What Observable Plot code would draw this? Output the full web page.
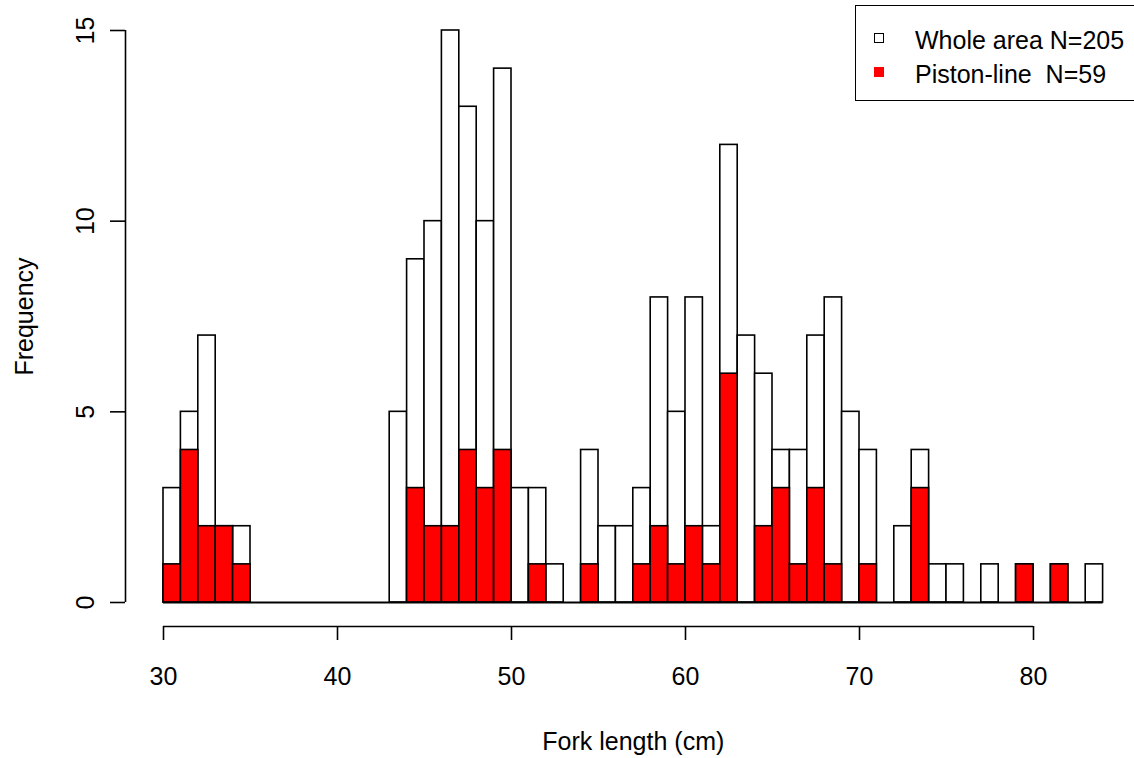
<!DOCTYPE html>
<html>
<head>
<meta charset="utf-8">
<script src="https://cdn.jsdelivr.net/npm/d3@7"></script>
<script src="https://cdn.jsdelivr.net/npm/@observablehq/plot@0.6"></script>
<style>
  html, body { margin: 0; padding: 0; background: #fff; overflow: hidden; }
  #wrap { position: relative; width: 1134px; height: 758px; }
  #legend { position: absolute; left: 855px; top: 5px; width: 300px; height: 94px;
            border: 1.5px solid #000; background: #fff; font-family: "Liberation Sans", Arial, sans-serif; font-size: 25px; }
  .row { position: absolute; left: 0; height: 30px; white-space: pre; color: #000; }
  .sw { position: absolute; left: 18px; width: 10px; height: 10px; box-sizing: border-box; }
  .lbl { position: absolute; left: 59px; line-height: 30px; }
</style>
</head>
<body>
<div id="wrap">
  <div id="chart"></div>
  <div id="legend">
    <div class="row" style="top:19px"><div class="sw" style="top:8px;border:1.5px solid #000;background:#fff"></div><div class="lbl" style="top:0">Whole area N=205</div></div>
    <div class="row" style="top:53px"><div class="sw" style="top:8px;background:#ff0000"></div><div class="lbl" style="top:0">Piston-line  N=59</div></div>
  </div>
</div>
<script>
const binStart = [30,31,32,33,34,35,36,37,38,39,40,41,42,43,44,45,46,47,48,49,50,51,52,53,54,55,56,57,58,59,60,61,62,63,64,65,66,67,68,69,70,71,72,73,74,75,76,77,78,79,80,81,82,83];
const wholeCounts = [3,5,7,2,2,0,0,0,0,0,0,0,0,5,9,10,15,13,10,14,3,3,1,0,4,2,2,3,8,5,8,2,12,7,6,4,4,7,8,5,4,0,2,4,1,1,0,1,0,1,0,1,0,1];
const pistonCounts = [1,4,2,2,1,0,0,0,0,0,0,0,0,0,3,2,2,4,3,4,0,1,0,0,1,0,0,1,2,1,2,1,6,0,2,3,1,3,1,0,1,0,0,3,0,0,0,0,0,1,0,1,0,0];
const binWidth = 1;
const xTicks = [30,40,50,60,70,80];
const yTicks = [0,5,10,15];
const xLabel = "Fork length (cm)";
const yLabel = "Frequency";

const whole = binStart.map((s, i) => ({x1: s, x2: s + binWidth, n: wholeCounts[i]}));
const piston = binStart.map((s, i) => ({x1: s, x2: s + binWidth, n: pistonCounts[i]}));
const xMin = binStart[0], xMax = binStart[binStart.length - 1] + binWidth;

const font = "'Liberation Sans', Arial, sans-serif";
const chart = Plot.plot({
  width: 1134,
  height: 758,
  marginLeft: 163,
  marginRight: 31.4,
  marginTop: 30,
  marginBottom: 156,
  style: {fontFamily: font, fontSize: "25px", background: "#fff", color: "#000"},
  x: {domain: [xMin, xMax], label: null},
  y: {domain: [yTicks[0], yTicks[yTicks.length - 1]], label: null},
  marks: [
    Plot.rect(whole, {x1: "x1", x2: "x2", y1: 0, y2: "n", fill: "#ffffff", stroke: "#000", strokeWidth: 1.6}),
    Plot.rect(piston, {x1: "x1", x2: "x2", y1: 0, y2: "n", fill: "#ff0000", stroke: "#000", strokeWidth: 1.6}),
    Plot.ruleY([0], {x1: xMin, x2: xMax, stroke: "#000", strokeWidth: 2}),
    // y axis
    Plot.ruleX([xMin], {y1: yTicks[0], y2: yTicks[yTicks.length - 1], dx: -38, stroke: "#000", strokeWidth: 1.6}),
    Plot.axisY({ticks: yTicks, tickSize: 15, tickPadding: 17, dx: -38, tickRotate: -90, fontSize: 25, label: null, strokeWidth: 1.6}),
    // x axis
    Plot.ruleY([0], {x1: xTicks[0], x2: xTicks[xTicks.length - 1], dy: 24, stroke: "#000", strokeWidth: 1.6}),
    Plot.axisX({ticks: xTicks, tickSize: 14, tickPadding: 27, dy: 24, fontSize: 25, label: null, strokeWidth: 1.6}),
    // axis titles
    Plot.text([xLabel], {frameAnchor: "bottom", text: d => d, dy: 147, lineAnchor: "bottom", fontSize: 25}),
    Plot.text([yLabel], {frameAnchor: "left", text: d => d, dx: -131, rotate: -90, lineAnchor: "bottom", textAnchor: "middle", fontSize: 25})
  ]
});
document.getElementById("chart").appendChild(chart);
</script>
</body>
</html>
